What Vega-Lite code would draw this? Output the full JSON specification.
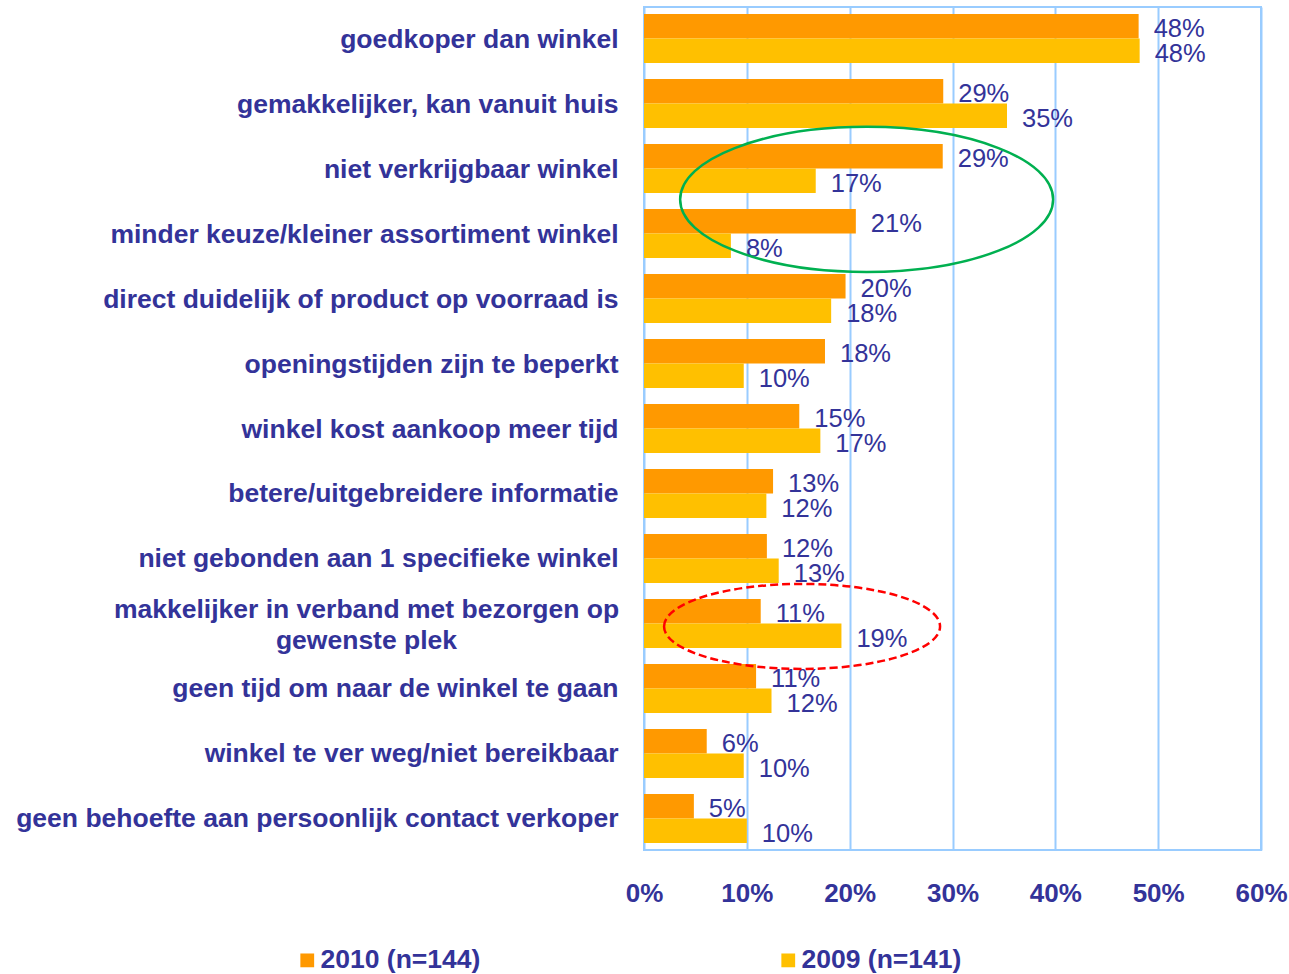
{
  "$schema": "https://vega.github.io/schema/vega-lite/v6.json",
  "autosize": "none",
  "width": 617,
  "height": 843,
  "padding": {"left": 644, "top": 7, "right": 28, "bottom": 124},
  "background": "white",
  "config": {
    "view": {"stroke": "#99CCFF", "strokeWidth": 2},
    "font": "Liberation Sans"
  },
  "datasets": {
    "bars": [
      {"category": "goedkoper dan winkel", "year": "2010 (n=144)", "value": 48.1, "label": "48%"},
      {"category": "goedkoper dan winkel", "year": "2009 (n=141)", "value": 48.2, "label": "48%"},
      {"category": "gemakkelijker, kan vanuit huis", "year": "2010 (n=144)", "value": 29.1, "label": "29%"},
      {"category": "gemakkelijker, kan vanuit huis", "year": "2009 (n=141)", "value": 35.3, "label": "35%"},
      {"category": "niet verkrijgbaar winkel", "year": "2010 (n=144)", "value": 29.05, "label": "29%"},
      {"category": "niet verkrijgbaar winkel", "year": "2009 (n=141)", "value": 16.7, "label": "17%"},
      {"category": "minder keuze/kleiner assortiment winkel", "year": "2010 (n=144)", "value": 20.6, "label": "21%"},
      {"category": "minder keuze/kleiner assortiment winkel", "year": "2009 (n=141)", "value": 8.45, "label": "8%"},
      {"category": "direct duidelijk of product op voorraad is", "year": "2010 (n=144)", "value": 19.6, "label": "20%"},
      {"category": "direct duidelijk of product op voorraad is", "year": "2009 (n=141)", "value": 18.2, "label": "18%"},
      {"category": "openingstijden zijn te beperkt", "year": "2010 (n=144)", "value": 17.6, "label": "18%"},
      {"category": "openingstijden zijn te beperkt", "year": "2009 (n=141)", "value": 9.7, "label": "10%"},
      {"category": "winkel kost aankoop meer tijd", "year": "2010 (n=144)", "value": 15.1, "label": "15%"},
      {"category": "winkel kost aankoop meer tijd", "year": "2009 (n=141)", "value": 17.15, "label": "17%"},
      {"category": "betere/uitgebreidere informatie", "year": "2010 (n=144)", "value": 12.55, "label": "13%"},
      {"category": "betere/uitgebreidere informatie", "year": "2009 (n=141)", "value": 11.9, "label": "12%"},
      {"category": "niet gebonden aan 1 specifieke winkel", "year": "2010 (n=144)", "value": 11.95, "label": "12%"},
      {"category": "niet gebonden aan 1 specifieke winkel", "year": "2009 (n=141)", "value": 13.1, "label": "13%"},
      {"category": "makkelijker in verband met bezorgen op gewenste plek", "year": "2010 (n=144)", "value": 11.35, "label": "11%"},
      {"category": "makkelijker in verband met bezorgen op gewenste plek", "year": "2009 (n=141)", "value": 19.2, "label": "19%"},
      {"category": "geen tijd om naar de winkel te gaan", "year": "2010 (n=144)", "value": 10.9, "label": "11%"},
      {"category": "geen tijd om naar de winkel te gaan", "year": "2009 (n=141)", "value": 12.4, "label": "12%"},
      {"category": "winkel te ver weg/niet bereikbaar", "year": "2010 (n=144)", "value": 6.1, "label": "6%"},
      {"category": "winkel te ver weg/niet bereikbaar", "year": "2009 (n=141)", "value": 9.7, "label": "10%"},
      {"category": "geen behoefte aan persoonlijk contact verkoper", "year": "2010 (n=144)", "value": 4.85, "label": "5%"},
      {"category": "geen behoefte aan persoonlijk contact verkoper", "year": "2009 (n=141)", "value": 10.0, "label": "10%"}
    ],
    "ellipses": [
      {"name": "green", "category": "niet verkrijgbaar winkel", "value": 21.65},
      {"name": "red", "category": "makkelijker in verband met bezorgen op gewenste plek", "value": 15.37}
    ]
  },
  "layer": [
    {
      "data": {"name": "bars"},
      "mark": {"type": "bar"},
      "encoding": {
        "y": {
          "field": "category",
          "type": "nominal",
          "sort": ["goedkoper dan winkel", "gemakkelijker, kan vanuit huis", "niet verkrijgbaar winkel", "minder keuze/kleiner assortiment winkel", "direct duidelijk of product op voorraad is", "openingstijden zijn te beperkt", "winkel kost aankoop meer tijd", "betere/uitgebreidere informatie", "niet gebonden aan 1 specifieke winkel", "makkelijker in verband met bezorgen op gewenste plek", "geen tijd om naar de winkel te gaan", "winkel te ver weg/niet bereikbaar", "geen behoefte aan persoonlijk contact verkoper"],
          "scale": {"paddingInner": 0.246, "paddingOuter": 0.108},
          "axis": {
            "title": null,
            "ticks": false,
            "domain": false,
            "labelFont": "Liberation Sans",
            "labelFontWeight": "bold",
            "labelFontSize": 26.5,
            "labelColor": "#333399",
            "labelLimit": 700,
            "labelLineHeight": 31,
            "labelExpr": "datum.value == 'makkelijker in verband met bezorgen op gewenste plek' ? ['makkelijker in verband met bezorgen op', 'gewenste plek'] : datum.value",
            "labelAlign": {"condition": {"test": "datum.value == 'makkelijker in verband met bezorgen op gewenste plek'", "value": "center"}, "value": "right"},
            "labelPadding": {"condition": {"test": "datum.value == 'makkelijker in verband met bezorgen op gewenste plek'", "value": 278}, "value": 26},
            "labelOffset": {"condition": {"test": "datum.value == 'makkelijker in verband met bezorgen op gewenste plek'", "value": -13}, "value": 1}
          }
        },
        "yOffset": {"field": "year", "type": "nominal", "sort": ["2010 (n=144)", "2009 (n=141)"], "scale": {"paddingInner": 0, "paddingOuter": 0}},
        "x": {
          "field": "value",
          "type": "quantitative",
          "scale": {"domain": [0, 60], "nice": false},
          "axis": {
            "title": null,
            "values": [0, 10, 20, 30, 40, 50, 60],
            "labelExpr": "datum.value + '%'",
            "domain": false,
            "ticks": false,
            "grid": true,
            "gridColor": "#99CCFF",
            "gridWidth": 2,
            "labelFont": "Liberation Sans",
            "labelFontWeight": "bold",
            "labelFontSize": 26,
            "labelColor": "#333399",
            "labelPadding": 30,
            "labelFlush": false
          }
        },
        "color": {
          "field": "year",
          "type": "nominal",
          "sort": ["2010 (n=144)", "2009 (n=141)"],
          "scale": {"domain": ["2010 (n=144)", "2009 (n=141)"], "range": ["#FF9900", "#FFC000"]},
          "legend": {
            "title": null,
            "orient": "none",
            "legendX": -350,
            "legendY": 940,
            "direction": "horizontal",
            "columns": 2,
            "columnPadding": 294,
            "padding": 0,
            "symbolType": "square",
            "symbolSize": 190,
            "symbolStrokeWidth": 0,
            "labelFont": "Liberation Sans",
            "labelFontWeight": "bold",
            "labelFontSize": 26.5,
            "labelColor": "#333399",
            "labelOffset": 0,
            "labelLimit": 400
          }
        }
      }
    },
    {
      "data": {"name": "bars"},
      "mark": {"type": "text", "align": "left", "baseline": "middle", "dx": 15, "dy": 3, "font": "Liberation Sans", "fontSize": 25.5, "color": "#333399"},
      "encoding": {
        "y": {"field": "category", "type": "nominal", "sort": ["goedkoper dan winkel", "gemakkelijker, kan vanuit huis", "niet verkrijgbaar winkel", "minder keuze/kleiner assortiment winkel", "direct duidelijk of product op voorraad is", "openingstijden zijn te beperkt", "winkel kost aankoop meer tijd", "betere/uitgebreidere informatie", "niet gebonden aan 1 specifieke winkel", "makkelijker in verband met bezorgen op gewenste plek", "geen tijd om naar de winkel te gaan", "winkel te ver weg/niet bereikbaar", "geen behoefte aan persoonlijk contact verkoper"]},
        "yOffset": {"field": "year", "type": "nominal", "sort": ["2010 (n=144)", "2009 (n=141)"]},
        "x": {"field": "value", "type": "quantitative"},
        "text": {"field": "label"}
      }
    },
    {
      "data": {"name": "ellipses"},
      "transform": [{"filter": "datum.name == 'green'"}],
      "mark": {
        "type": "point",
        "filled": false,
        "stroke": "#00B050",
        "strokeWidth": 2.5,
        "opacity": 1,
        "size": 139129,
        "shape": "M -1 0 C -1 -0.2148 -0.5523 -0.389 0 -0.389 C 0.5523 -0.389 1 -0.2148 1 0 C 1 0.2148 0.5523 0.389 0 0.389 C -0.5523 0.389 -1 0.2148 -1 0 Z"
      },
      "encoding": {
        "y": {"field": "category", "type": "nominal", "bandPosition": 1.13, "sort": ["goedkoper dan winkel", "gemakkelijker, kan vanuit huis", "niet verkrijgbaar winkel", "minder keuze/kleiner assortiment winkel", "direct duidelijk of product op voorraad is", "openingstijden zijn te beperkt", "winkel kost aankoop meer tijd", "betere/uitgebreidere informatie", "niet gebonden aan 1 specifieke winkel", "makkelijker in verband met bezorgen op gewenste plek", "geen tijd om naar de winkel te gaan", "winkel te ver weg/niet bereikbaar", "geen behoefte aan persoonlijk contact verkoper"]},
        "x": {"field": "value", "type": "quantitative"}
      }
    },
    {
      "data": {"name": "ellipses"},
      "transform": [{"filter": "datum.name == 'red'"}],
      "mark": {
        "type": "point",
        "filled": false,
        "stroke": "#FF0000",
        "strokeWidth": 2.5,
        "strokeDash": [8, 4],
        "opacity": 1,
        "size": 76176,
        "shape": "M -1 0 C -1 -0.1701 -0.5523 -0.308 0 -0.308 C 0.5523 -0.308 1 -0.1701 1 0 C 1 0.1701 0.5523 0.308 0 0.308 C -0.5523 0.308 -1 0.1701 -1 0 Z"
      },
      "encoding": {
        "y": {"field": "category", "type": "nominal", "bandPosition": 0.56, "sort": ["goedkoper dan winkel", "gemakkelijker, kan vanuit huis", "niet verkrijgbaar winkel", "minder keuze/kleiner assortiment winkel", "direct duidelijk of product op voorraad is", "openingstijden zijn te beperkt", "winkel kost aankoop meer tijd", "betere/uitgebreidere informatie", "niet gebonden aan 1 specifieke winkel", "makkelijker in verband met bezorgen op gewenste plek", "geen tijd om naar de winkel te gaan", "winkel te ver weg/niet bereikbaar", "geen behoefte aan persoonlijk contact verkoper"]},
        "x": {"field": "value", "type": "quantitative"}
      }
    }
  ]
}
